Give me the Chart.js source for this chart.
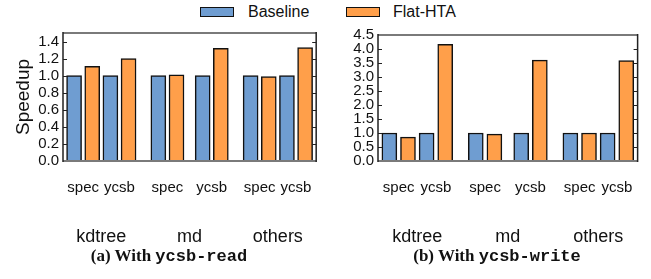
<!DOCTYPE html>
<html><head><meta charset="utf-8">
<script src="https://cdn.jsdelivr.net/npm/chart.js@4/dist/chart.umd.min.js"></script>
<style>
html,body{margin:0;padding:0;background:#fff;}
#page{position:relative;width:651px;height:279px;overflow:hidden;font-family:"Liberation Sans",Arial,sans-serif;}
.cw{position:absolute;top:20px;height:230px;}
#cwA{left:0;width:330px;} #cwB{left:330px;width:321px;}
.leg{position:absolute;top:2px;font-size:16px;line-height:20px;color:#111;white-space:nowrap;}
.box{position:absolute;top:7px;width:34px;height:10px;box-sizing:border-box;border:1.5px solid #111;}
.cap{position:absolute;top:246px;line-height:20px;font-family:"Liberation Serif",serif;font-weight:bold;font-size:17px;color:#111;white-space:nowrap;transform:translateX(-50%);}
.cap span{font-family:"Liberation Mono",monospace;font-weight:bold;}
</style></head>
<body><div id="page">
<div class="box" id="boxA" style="left:200px;"></div><div class="leg" id="legA" style="left:248px;"></div>
<div class="box" id="boxB" style="left:346px;"></div><div class="leg" id="legB" style="left:393px;"></div>
<div class="cw" id="cwA"><canvas id="cA"></canvas></div>
<div class="cw" id="cwB"><canvas id="cB"></canvas></div>
<div class="cap" style="left:169px;">(a) With <span>ycsb-read</span></div>
<div class="cap" style="left:497px;">(b) With <span>ycsb-write</span></div>
</div>
<script>
// ---- data ----
const groups = ['kdtree', 'md', 'others'];
const workloads = ['spec', 'ycsb'];
const seriesNames = ['Baseline', 'Flat-HTA'];
// values ordered kdtree-spec, kdtree-ycsb, md-spec, md-ycsb, others-spec, others-ycsb
const readBaseline = [1.00, 1.00, 1.00, 1.00, 1.00, 1.00];
const readFlat     = [1.11, 1.20, 1.01, 1.32, 0.99, 1.33];
const writeBaseline = [1.00, 1.00, 1.00, 1.00, 1.00, 1.00];
const writeFlat     = [0.85, 4.17, 0.96, 3.60, 1.00, 3.59];
const readYTicks  = [0, 0.2, 0.4, 0.6, 0.8, 1.0, 1.2, 1.4];
const writeYTicks = [0, 0.5, 1.0, 1.5, 2.0, 2.5, 3.0, 3.5, 4.0, 4.5];
const yTitle = 'Speedup';

// ---- layout ----
const colors = ['#6f9dd1', '#ff9f4a'];
const GROUP_FIRST = 1.5, GROUP_PITCH = 4.86, PAIR_HALF = [1.0, 1.22, 1.0], EDGE = 0.61;
const pairX = (g, w) => GROUP_FIRST + g * GROUP_PITCH + (w ? 1 : -1) * PAIR_HALF[g];
const groupX = g => GROUP_FIRST + g * GROUP_PITCH;
const X_MIN = pairX(0, 0) - 0.5 - EDGE;
const X_MAX = pairX(2, 1) + 0.5 + EDGE;
const pairCenters = [];
groups.forEach((g, gi) => workloads.forEach((w, wi) => pairCenters.push(pairX(gi, wi))));
const groupCenters = groups.map((g, gi) => groupX(gi));

document.getElementById('legA').textContent = seriesNames[0];
document.getElementById('legB').textContent = seriesNames[1];
document.getElementById('boxA').style.background = colors[0];
document.getElementById('boxB').style.background = colors[1];

const FONT = '"Liberation Sans", Arial, sans-serif';

const framePlugin = {
  id: 'frame',
  afterDatasetsDraw(chart) {
    const {ctx, chartArea: a} = chart;
    const ys = chart.scales.y;
    ctx.save();
    ctx.strokeStyle = '#222'; ctx.lineWidth = 1;
    ys.ticks.forEach(t => {
      const py = Math.round(ys.getPixelForValue(t.value)) + 0.5;
      ctx.beginPath();
      ctx.moveTo(a.left, py); ctx.lineTo(a.left + 4, py);
      ctx.moveTo(a.right - 4, py); ctx.lineTo(a.right, py);
      ctx.stroke();
    });
    ctx.strokeStyle = '#7a7a7a'; ctx.lineWidth = 2;
    ctx.beginPath();
    ctx.moveTo(a.left, a.top); ctx.lineTo(a.right, a.top);
    ctx.moveTo(a.left, a.bottom); ctx.lineTo(a.right, a.bottom);
    ctx.stroke();
    ctx.strokeStyle = '#222'; ctx.lineWidth = 1.5;
    ctx.beginPath();
    ctx.moveTo(a.left, a.top - 1); ctx.lineTo(a.left, a.bottom + 1);
    ctx.moveTo(a.right, a.top - 1); ctx.lineTo(a.right, a.bottom + 1);
    ctx.stroke();
    ctx.restore();
  }
};

function makeChart(id, base, flat, yTicks, yMax, cfg) {
  const series = [base, flat];
  const datasets = series.map((vals, d) => ({
    label: seriesNames[d],
    data: vals.map((v, i) => ({x: pairX(Math.floor(i / 2), i % 2) + (d ? 0.5 : -0.5), y: v})),
    backgroundColor: colors[d],
    borderColor: '#111',
    borderWidth: 1.5,
    barThickness: 15,
    grouped: false,
    xAxisID: 'x', yAxisID: 'y'
  }));
  return new Chart(document.getElementById(id), {
    type: 'bar',
    data: {datasets},
    plugins: [framePlugin],
    options: {
      responsive: true, maintainAspectRatio: false, animation: false,
      devicePixelRatio: 1,
      layout: {autoPadding: false, padding: {left: 0, top: cfg.padTop, right: cfg.padRight, bottom: 0}},
      plugins: {legend: {display: false}, tooltip: {enabled: false}},
      scales: {
        x: {
          type: 'linear', position: 'bottom', weight: 0, offset: false,
          min: X_MIN, max: X_MAX,
          grid: {display: false, drawTicks: false}, border: {display: false},
          afterBuildTicks: s => { s.ticks = pairCenters.map(v => ({value: v})); },
          afterFit: s => { s.height = 40; },
          ticks: {autoSkip: false, maxRotation: 0, minRotation: 0, padding: 18,
            color: '#111', font: {family: FONT, size: 15},
            callback: (v, i) => workloads[i % 2]}
        },
        x2: {
          type: 'linear', axis: 'x', position: 'bottom', weight: 1, offset: false,
          min: X_MIN, max: X_MAX,
          grid: {display: false, drawTicks: false}, border: {display: false},
          afterBuildTicks: s => { s.ticks = groupCenters.map(v => ({value: v})); },
          afterFit: s => { s.height = 49; },
          ticks: {autoSkip: false, maxRotation: 0, minRotation: 0, padding: 25,
            color: '#111', font: {family: FONT, size: 18},
            callback: (v, i) => groups[i]}
        },
        y: {
          type: 'linear', min: 0, max: yMax,
          grid: {display: false, drawTicks: false}, border: {display: false},
          afterBuildTicks: s => { s.ticks = yTicks.map(v => ({value: v})); },
          afterFit: s => { s.width = cfg.yWidth; },
          title: {display: cfg.title, text: yTitle, color: '#111',
            font: {family: FONT, size: 19}, padding: {top: 12.6, bottom: 0}},
          ticks: {autoSkip: false, padding: 4, color: '#111', font: {family: FONT, size: 15},
            callback: v => Number(v).toFixed(1)}
        }
      }
    }
  });
}

makeChart('cA', readBaseline, readFlat, readYTicks, 1.5, {padTop: 8, padRight: 7, yWidth: 63, title: true});
makeChart('cB', writeBaseline, writeFlat, writeYTicks, 4.5, {padTop: 15, padRight: 8, yWidth: 48, title: false});
</script>
</body></html>
